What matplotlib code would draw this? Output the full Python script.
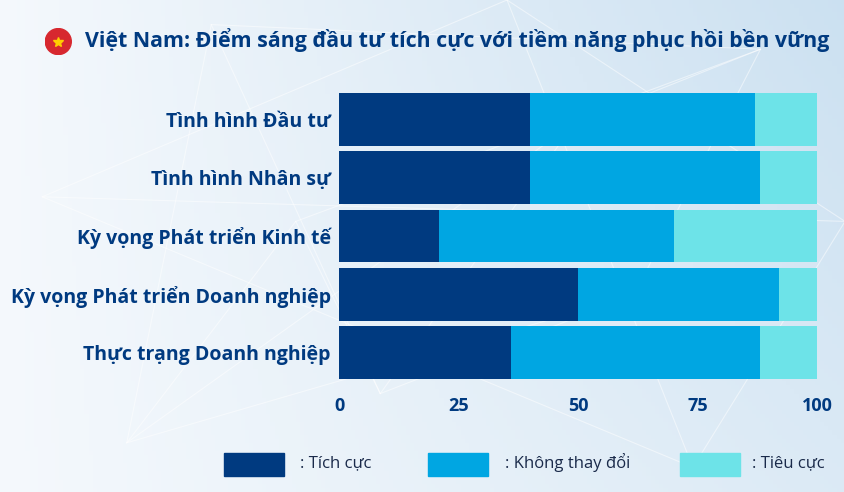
import numpy as np
import matplotlib.pyplot as plt
from matplotlib.patches import Circle, Rectangle

plt.rcParams['font.family'] = ['Open Sans', 'DejaVu Sans']

categories = ["Tình hình Đầu tư", "Tình hình Nhân sự", "Kỳ vọng Phát triển Kinh tế",
              "Kỳ vọng Phát triển Doanh nghiệp", "Thực trạng Doanh nghiệp"]
tich_cuc = [40, 40, 21, 50, 36]
khong_doi = [47, 48, 49, 42, 52]
tieu_cuc = [13, 12, 30, 8, 12]
series_names = [": Tích cực", ": Không thay đổi", ": Tiêu cực"]
ticks = [0, 25, 50, 75, 100]

navy = "#003a80"
c_dark = "#003a80"
c_mid = "#00a6e2"
c_light = "#6de3e8"

fig = plt.figure(figsize=(8.45, 4.92), dpi=100)

# background gradient with faint network lines
bg = fig.add_axes([0, 0, 1, 1], zorder=0)
xx, yy = np.meshgrid(np.linspace(0, 1, 200), np.linspace(0, 1, 120))
grad = 0.55 * xx + 0.35 * (1 - yy) * xx
c0 = np.array([0.96, 0.975, 0.99])
c1 = np.array([0.78, 0.87, 0.94])
img = c0[None, None, :] * (1 - grad[..., None]) + c1[None, None, :] * grad[..., None]
bg.imshow(img, extent=[0, 1, 0, 1], aspect='auto', origin='upper')
pts = [(0.05, 0.6), (0.25, 0.95), (0.45, 0.2), (0.6, 1.0), (0.75, 0.4), (0.9, 0.9),
       (1.0, 0.55), (0.35, 0.55), (0.15, 0.1), (0.82, 0.05), (0.68, 0.75)]
for i in range(len(pts)):
    for j in range(i + 1, len(pts)):
        if (i + j) % 3 == 0:
            bg.plot([pts[i][0], pts[j][0]], [pts[i][1], pts[j][1]], color="white", lw=0.8, alpha=0.5)
bg.set_xlim(0, 1)
bg.set_ylim(0, 1)
bg.axis('off')

ax = fig.add_axes([0.4012, 0.2297, 0.5657, 0.5813], zorder=1)
ax.patch.set_alpha(0)
y = np.arange(len(categories))
h = 0.9
left2 = np.array(tich_cuc)
left3 = left2 + np.array(khong_doi)
ax.barh(y, tich_cuc, height=h, color=c_dark)
ax.barh(y, khong_doi, left=left2, height=h, color=c_mid)
ax.barh(y, tieu_cuc, left=left3, height=h, color=c_light)
ax.set_xlim(0, 100)
ax.set_ylim(len(categories) - 1 + h / 2, -h / 2)
ax.set_yticks(y)
ax.set_yticklabels(categories, fontsize=14, fontweight='bold', color=navy)
ax.set_xticks(ticks)
ax.set_xticklabels([str(t) for t in ticks], fontsize=13, fontweight='bold', color=navy)
ax.tick_params(length=0, axis='y', pad=6)
ax.tick_params(length=0, axis='x', pad=13)
for s in ax.spines.values():
    s.set_visible(False)

# title with flag
fig.text(0.101, 0.918, "Việt Nam: Điểm sáng đầu tư tích cực với tiềm năng phục hồi bền vững",
         fontsize=15.4, fontweight='bold', color=navy, va='center', ha='left')
flag = fig.add_axes([0.053, 0.888, 0.032, 0.055], zorder=2)
flag.add_patch(Circle((0.5, 0.5), 0.48, color="#d7282f"))
flag.plot(0.5, 0.49, marker='*', color="#ffcd00", markersize=7)
flag.set_xlim(0, 1)
flag.set_ylim(0, 1)
flag.set_aspect('equal')
flag.axis('off')

# legend
leg_x = [224, 428, 680]
txt_x = [300, 505, 752]
for lx, tx, col, name in zip(leg_x, txt_x, [c_dark, c_mid, c_light], series_names):
    fig.patches.append(Rectangle((lx / 845, 1 - 476 / 492), 60 / 845, 23 / 492,
                                 transform=fig.transFigure, color=col, zorder=3))
    fig.text(tx / 845, 1 - 463 / 492, name, fontsize=12, color="#1a2a4a", va='center', ha='left')

fig.savefig("out.png", dpi=100)
